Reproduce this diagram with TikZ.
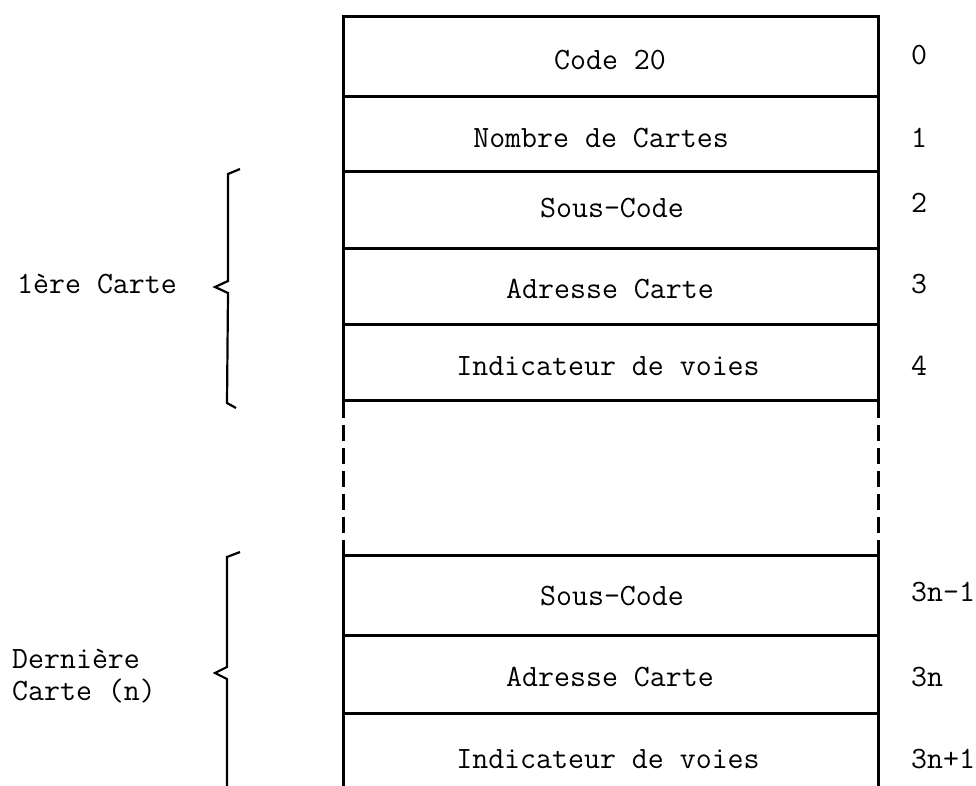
\documentclass[tikz,border=0pt]{standalone}
\begin{document}
\begin{tikzpicture}[x=1pt,y=-1pt,
  boxline/.style={line width=3pt, line cap=rect},
  dashline/.style={line width=3pt, dash pattern=on 16pt off 7pt, dash phase=-25pt},
  bracel/.style={line width=2.2pt, line join=miter},
  txt/.style={font=\ttfamily\fontsize{31}{31}\selectfont, anchor=base, inner sep=0pt},
  num/.style={txt, anchor=base west},
  lbl/.style={txt, anchor=base west}]
\useasboundingbox (0,0) rectangle (976,786);
% box corners and row boundaries
\foreach \n/\y in {a/17,b/97,c/172,d/248,e/324,f/400,g/555,h/635,i/713,j/786}{
  \coordinate (L\n) at (343,\y);
  \coordinate (R\n) at (878,\y);
}
% verticals
\draw[boxline] (La) -- (Lf);
\draw[boxline] (Ra) -- (Rf);
\draw[dashline] (Lf) -- (Lg);
\draw[dashline] (Rf) -- (Rg);
\draw[boxline] (Lg) -- (Lj);
\draw[boxline] (Rg) -- (Rj);
% horizontals
\foreach \n in {a,b,c,d,e,f,g,h,i}{
  \draw[boxline] (L\n) -- (R\n);
}
% row texts
\node[txt] (t0) at (610,70) {Code 20};
\node[txt] (t1) at (601,148) {Nombre de Cartes};
\node[txt] (t2) at (612,218) {Sous-Code};
\node[txt] (t3) at (610,298) {Adresse Carte};
\node[txt] (t4) at (608,375) {Indicateur de voies};
\node[txt] (t5) at (612,605) {Sous-Code};
\node[txt] (t6) at (610,686) {Adresse Carte};
\node[txt] (t7) at (608,768) {Indicateur de voies};
% indices
\node[num] (n0) at (911,65) {0};
\node[num] (n1) at (911,148) {1};
\node[num] (n2) at (911,213) {2};
\node[num] (n3) at (911,293) {3};
\node[num] (n4) at (911,375) {4};
\node[num] (n5) at (911,601) {3n-1};
\node[num] (n6) at (911,686) {3n};
\node[num] (n7) at (911,768) {3n+1};
% braces
\coordinate (b1s) at (240,169);
\coordinate (b1a) at (228,174);
\coordinate (b1b) at (228,281);
\coordinate (b1t) at (215,287);
\coordinate (b1c) at (228,293);
\coordinate (b1d) at (227,403);
\coordinate (b1e) at (236,408);
\draw[bracel] (b1s) -- (b1a) -- (b1b) -- (b1t) -- (b1c) -- (b1d) -- (b1e);
\coordinate (b2s) at (240,552);
\coordinate (b2a) at (227,557);
\coordinate (b2b) at (227,667);
\coordinate (b2t) at (215,673);
\coordinate (b2c) at (227,679);
\coordinate (b2d) at (227,786);
\draw[bracel] (b2s) -- (b2a) -- (b2b) -- (b2t) -- (b2c) -- (b2d);
% labels
\node[lbl] (l1) at (17,293) {1ère Carte};
\node[lbl] (l2) at (12,668) {Dernière};
\node[lbl] (l3) at (12,700) {Carte (n)};
\end{tikzpicture}
\end{document}
